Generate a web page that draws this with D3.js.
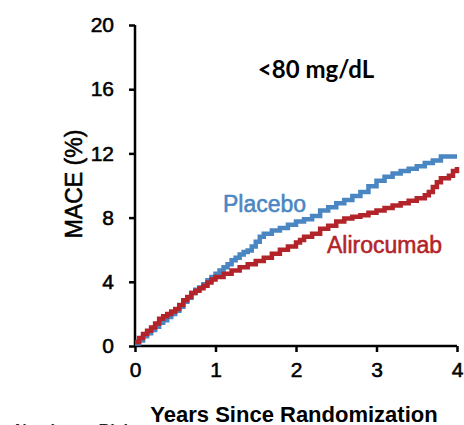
<!DOCTYPE html>
<html>
<head>
<meta charset="utf-8">
<script src="https://cdn.jsdelivr.net/npm/d3@7"></script>
<style>
  html, body { margin: 0; padding: 0; background: #fff; }
  svg { display: block; }
  text { font-family: "Liberation Sans", Arial, sans-serif; fill: #000; }
</style>
</head>
<body>
<svg id="chart" width="464" height="425"></svg>
<script>
// Cumulative MACE incidence (%) by years since randomization, LDL-C <80 mg/dL subgroup
const placeboTime = [0, 0.05, 0.1, 0.15, 0.2, 0.25, 0.3, 0.35, 0.4, 0.45, 0.5, 0.55, 0.6, 0.65, 0.7, 0.75, 0.8, 0.85, 0.9, 0.95,
  1.0, 1.05, 1.1, 1.15, 1.2, 1.25, 1.3, 1.35, 1.4, 1.45, 1.5, 1.55, 1.6, 1.7, 1.8, 1.9, 2.0, 2.1, 2.2, 2.3, 2.4, 2.5,
  2.6, 2.7, 2.8, 2.9, 3.0, 3.1, 3.2, 3.3, 3.4, 3.5, 3.6, 3.7, 3.8, 4.0];
const placeboRisk = [0.15, 0.35, 0.6, 0.8, 1.0, 1.2, 1.45, 1.6, 1.8, 2.0, 2.2, 2.45, 2.75, 3.0, 3.3, 3.5, 3.65, 3.85, 4.1, 4.3,
  4.5, 4.7, 4.9, 5.1, 5.35, 5.5, 5.7, 5.85, 5.95, 6.2, 6.5, 6.8, 7.0, 7.2, 7.35, 7.55, 7.75, 7.9, 8.1, 8.45, 8.65, 8.9,
  9.1, 9.35, 9.6, 9.95, 10.3, 10.55, 10.75, 10.9, 11.05, 11.2, 11.4, 11.55, 11.8, 11.8];

const alirocumabTime = [0, 0.05, 0.1, 0.15, 0.2, 0.25, 0.3, 0.35, 0.4, 0.45, 0.5, 0.55, 0.6, 0.65, 0.7, 0.75, 0.8, 0.85, 0.9, 0.95,
  1.0, 1.1, 1.2, 1.3, 1.4, 1.5, 1.6, 1.7, 1.8, 1.9, 2.0, 2.05, 2.1, 2.2, 2.3, 2.4, 2.5, 2.6, 2.7, 2.8, 2.9,
  3.0, 3.1, 3.2, 3.3, 3.4, 3.5, 3.6, 3.65, 3.7, 3.75, 3.8, 3.9, 3.95, 4.0];
const alirocumabRisk = [0.25, 0.5, 0.75, 0.95, 1.15, 1.4, 1.7, 1.85, 2.0, 2.15, 2.3, 2.55, 2.85, 3.05, 3.3, 3.45, 3.6, 3.75, 3.95, 4.15,
  4.3, 4.5, 4.7, 4.9, 5.1, 5.3, 5.5, 5.75, 6.0, 6.2, 6.45, 6.6, 6.8, 7.0, 7.3, 7.5, 7.75, 7.95, 8.05, 8.15, 8.3,
  8.45, 8.6, 8.75, 8.9, 9.05, 9.2, 9.4, 9.6, 9.9, 10.2, 10.45, 10.6, 10.9, 11.15];

const xTicks = [0, 1, 2, 3, 4];
const yTicks = [0, 4, 8, 12, 16, 20];

const seriesNames = ["Placebo", "Alirocumab"];
const seriesColors = ["#4a87c2", "#b3242a"];

const svg = d3.select("#chart");

const x = d3.scaleLinear().domain([0, 4]).range([135, 457]);
const y = d3.scaleLinear().domain([0, 20]).range([346, 25]);

// Slightly heavier glyphs for the Arial-style labels
const heavy = (sel, color) => sel
  .style("fill", color)
  .style("stroke", color)
  .style("stroke-width", "0.55px")
  .style("paint-order", "stroke");

// Axes
const xAxis = svg.append("g")
  .attr("transform", `translate(0,${y(0)})`)
  .call(d3.axisBottom(x).tickValues(xTicks).tickSize(6).tickPadding(10).tickFormat(d3.format("d")));
const yAxis = svg.append("g")
  .attr("transform", `translate(${x(0)},0)`)
  .call(d3.axisLeft(y).tickValues(yTicks).tickSize(6).tickPadding(15).tickFormat(d3.format("d")));

[xAxis, yAxis].forEach(g => {
  g.select(".domain").attr("stroke", "#000").attr("stroke-width", 2.5);
  g.selectAll(".tick line").attr("stroke", "#000").attr("stroke-width", 2.5);
  g.selectAll(".tick text")
    .style("font-family", '"Liberation Sans", Arial, sans-serif')
    .style("font-size", "21px")
    .call(heavy, "#000");
});
xAxis.select(".domain").attr("d", `M${x(0)},0H${x(4)}`);
yAxis.select(".domain").attr("d", `M0,${y(0)}V${y(20)}`);

// Survival-style step curves
const line = d3.line()
  .x(d => x(d[0]))
  .y(d => y(d[1]))
  .curve(d3.curveStepAfter);

const series = [
  d3.zip(placeboTime, placeboRisk),
  d3.zip(alirocumabTime, alirocumabRisk)
];

series.forEach((pts, i) => {
  svg.append("path")
    .datum(pts)
    .attr("fill", "none")
    .attr("stroke", seriesColors[i])
    .attr("stroke-width", 4.5)
    .attr("stroke-linejoin", "miter")
    .attr("d", line);
});

// Series labels
svg.append("text")
  .attr("x", 223).attr("y", 212)
  .style("font-size", "23px")
  .call(heavy, seriesColors[0])
  .text(seriesNames[0]);
svg.append("text")
  .attr("x", 327).attr("y", 253)
  .style("font-size", "23px")
  .call(heavy, seriesColors[1])
  .text(seriesNames[1]);

// Subgroup title
svg.append("text")
  .attr("x", 316).attr("y", 78)
  .attr("text-anchor", "middle")
  .style("font-family", "Lato, 'Open Sans', sans-serif")
  .style("font-weight", "bold")
  .style("font-size", "24px")
  .text("<80 mg/dL");

// Axis titles
svg.append("text")
  .attr("transform", "translate(82,184) rotate(-90)")
  .attr("text-anchor", "middle")
  .style("font-size", "23px")
  .call(heavy, "#000")
  .text("MACE (%)");
svg.append("text")
  .attr("x", 294).attr("y", 422)
  .attr("text-anchor", "middle")
  .style("font-size", "22px")
  .style("font-weight", "bold")
  .text("Years Since Randomization");

// Risk table heading, running off the bottom edge
svg.append("text")
  .attr("x", 15).attr("y", 436)
  .style("font-size", "16px")
  .style("font-weight", "bold")
  .style("fill", "#222")
  .text("Number at Risk");
</script>
</body>
</html>
